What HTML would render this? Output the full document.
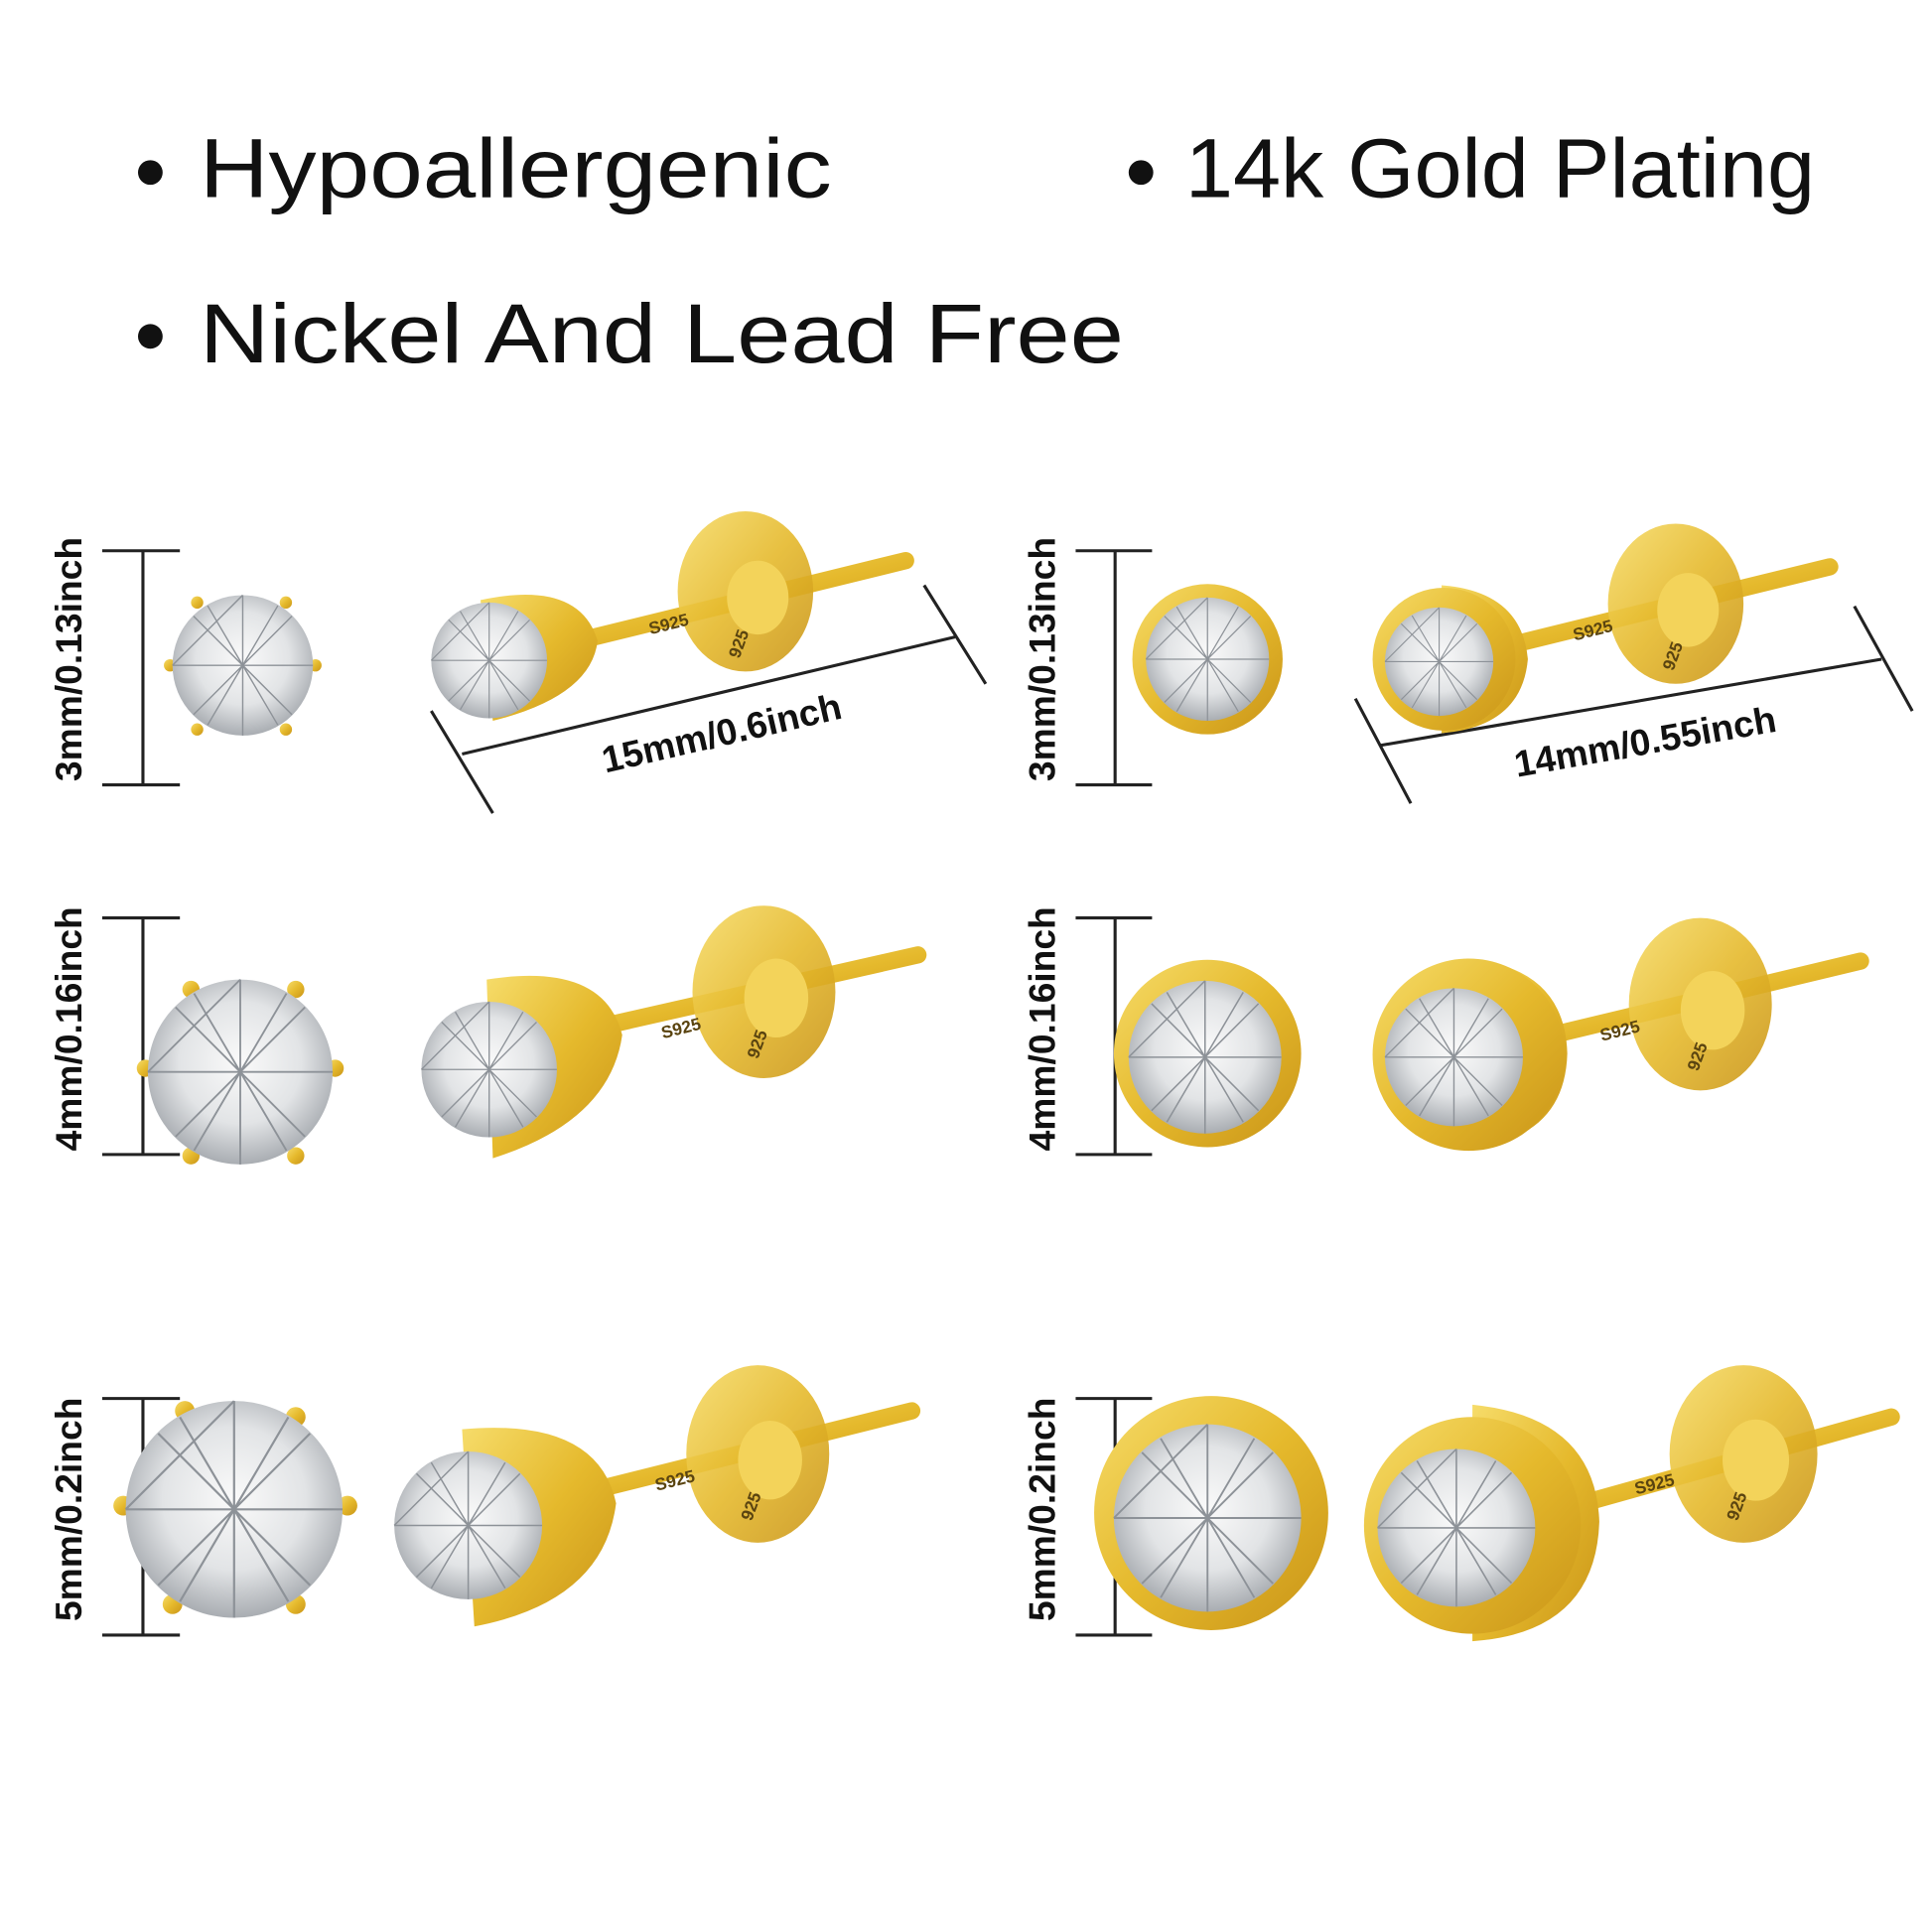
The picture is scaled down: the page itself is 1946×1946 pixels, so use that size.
<!DOCTYPE html>
<html><head><meta charset="utf-8"><style>
html,body{margin:0;padding:0;background:#fff}
svg{display:block}
text{font-family:"Liberation Sans","DejaVu Sans",sans-serif}
</style></head><body>
<svg width="1946" height="1946" viewBox="0 0 1568 1568" xmlns="http://www.w3.org/2000/svg">
<defs>
<radialGradient id="st" cx="50%" cy="45%" r="55%"><stop offset="0" stop-color="#fafafa"/><stop offset="0.6" stop-color="#e2e4e6"/><stop offset="1" stop-color="#a9adb2"/></radialGradient>
<linearGradient id="gd" x1="0" y1="0" x2="1" y2="1"><stop offset="0" stop-color="#f6dc6a"/><stop offset="0.5" stop-color="#e5b92c"/><stop offset="1" stop-color="#c99418"/></linearGradient>
<g id="facet"><path d="M-1,0 L0,-1 M-0.7,-0.7 L0.7,0.7 M-1,0 L1,0 M0,-1 L0,1 M0.7,-0.7 L-0.7,0.7 M-0.5,-0.85 L0.5,0.85 M0.5,-0.85 L-0.5,0.85" stroke="#8d9298" stroke-width="0.02" fill="none"/></g>
</defs>
<rect width="1568" height="1568" fill="#fff"/>
<g font-size="68" fill="#111">
<circle cx="122" cy="140" r="10"/><circle cx="926" cy="140" r="10"/><circle cx="122" cy="273" r="10"/>
<text x="162" y="160" textLength="513" lengthAdjust="spacingAndGlyphs">Hypoallergenic</text>
<text x="962" y="160" textLength="511" lengthAdjust="spacingAndGlyphs">14k Gold Plating</text>
<text x="162" y="294" textLength="750" lengthAdjust="spacingAndGlyphs">Nickel And Lead Free</text>
</g>
<g stroke="#222" stroke-width="2.5" fill="none">
<path d="M83,447H146M116,447V637M83,637H146"/>
<path d="M83,745H146M116,745V937M83,937H146"/>
<path d="M83,1135H146M116,1135V1327M83,1327H146"/>
<path d="M873,447H935M905,447V637M873,637H935"/>
<path d="M873,745H935M905,745V937M873,937H935"/>
<path d="M873,1135H935M905,1135V1327M873,1327H935"/>
<path d="M375,612L775,517M350,577L400,660M750,475L800,555"/>
<path d="M1120,605L1527,535M1100,567L1145,652M1505,492L1552,577"/>
</g>
<g font-size="30" fill="#111" text-anchor="middle" font-weight="600">
<text transform="translate(66,535) rotate(-90)">3mm/0.13inch</text>
<text transform="translate(66,835) rotate(-90)">4mm/0.16inch</text>
<text transform="translate(66,1225) rotate(-90)">5mm/0.2inch</text>
<text transform="translate(856,535) rotate(-90)">3mm/0.13inch</text>
<text transform="translate(856,835) rotate(-90)">4mm/0.16inch</text>
<text transform="translate(856,1225) rotate(-90)">5mm/0.2inch</text>
<text transform="translate(588,605) rotate(-13)">15mm/0.6inch</text>
<text transform="translate(1337,612) rotate(-10)">14mm/0.55inch</text>
</g>
<g>
<g>
<path d="M470,520L735,455" stroke="url(#gd)" stroke-width="14" stroke-linecap="round"/>
<ellipse cx="605" cy="480" rx="55" ry="65" fill="url(#gd)" opacity="0.9"/>
<ellipse cx="615" cy="485" rx="25" ry="30" fill="#f3d35a"/>
<path d="M390,487 Q470,470 485,520 Q480,565 400,585Z" fill="url(#gd)"/>
</g>
<g>
<path d="M480,835L745,775" stroke="url(#gd)" stroke-width="14" stroke-linecap="round"/>
<ellipse cx="620" cy="805" rx="58" ry="70" fill="url(#gd)" opacity="0.9"/>
<ellipse cx="630" cy="810" rx="26" ry="32" fill="#f3d35a"/>
<path d="M395,795 Q490,780 505,840 Q495,910 400,940Z" fill="url(#gd)"/>
</g>
<g>
<path d="M480,1210L740,1145" stroke="url(#gd)" stroke-width="14" stroke-linecap="round"/>
<ellipse cx="615" cy="1180" rx="58" ry="72" fill="url(#gd)" opacity="0.9"/>
<ellipse cx="625" cy="1185" rx="26" ry="32" fill="#f3d35a"/>
<path d="M375,1160 Q485,1150 500,1220 Q490,1300 385,1320Z" fill="url(#gd)"/>
</g>
<g>
<path d="M1220,525L1485,460" stroke="url(#gd)" stroke-width="14" stroke-linecap="round"/>
<ellipse cx="1360" cy="490" rx="55" ry="65" fill="url(#gd)" opacity="0.9"/>
<ellipse cx="1370" cy="495" rx="25" ry="30" fill="#f3d35a"/>
<path d="M1170,475 Q1235,480 1240,535 Q1235,590 1170,595Z" fill="url(#gd)"/>
</g>
<g>
<path d="M1260,840L1510,780" stroke="url(#gd)" stroke-width="14" stroke-linecap="round"/>
<ellipse cx="1380" cy="815" rx="58" ry="70" fill="url(#gd)" opacity="0.9"/>
<ellipse cx="1390" cy="820" rx="26" ry="32" fill="#f3d35a"/>
<path d="M1190,778 Q1270,785 1272,855 Q1270,925 1190,932Z" fill="url(#gd)"/>
</g>
<g>
<path d="M1285,1220L1535,1150" stroke="url(#gd)" stroke-width="14" stroke-linecap="round"/>
<ellipse cx="1415" cy="1180" rx="60" ry="72" fill="url(#gd)" opacity="0.9"/>
<ellipse cx="1425" cy="1185" rx="27" ry="33" fill="#f3d35a"/>
<path d="M1195,1140 Q1295,1150 1298,1235 Q1295,1325 1195,1332Z" fill="url(#gd)"/>
</g>
</g>
<g font-size="14" fill="#5a4410" font-weight="bold">
<text transform="translate(528,515) rotate(-14)">S925</text>
<text transform="translate(538,843) rotate(-14)">S925</text>
<text transform="translate(533,1210) rotate(-14)">S925</text>
<text transform="translate(1278,520) rotate(-14)">S925</text>
<text transform="translate(1300,845) rotate(-14)">S925</text>
<text transform="translate(1328,1213) rotate(-14)">S925</text>
<text transform="translate(600,535) rotate(-70)">925</text>
<text transform="translate(615,860) rotate(-70)">925</text>
<text transform="translate(610,1235) rotate(-70)">925</text>
<text transform="translate(1358,545) rotate(-70)">925</text>
<text transform="translate(1378,870) rotate(-70)">925</text>
<text transform="translate(1410,1235) rotate(-70)">925</text>
</g>
<g fill="url(#gd)">
<circle cx="160" cy="489" r="5"/><circle cx="232" cy="489" r="5"/><circle cx="256" cy="540" r="5"/><circle cx="232" cy="592" r="5"/><circle cx="160" cy="592" r="5"/><circle cx="138" cy="540" r="5"/>
<circle cx="155" cy="803" r="7"/><circle cx="240" cy="803" r="7"/><circle cx="272" cy="867" r="7"/><circle cx="240" cy="938" r="7"/><circle cx="155" cy="938" r="7"/><circle cx="118" cy="867" r="7"/>
<circle cx="150" cy="1145" r="8"/><circle cx="240" cy="1150" r="8"/><circle cx="282" cy="1222" r="8"/><circle cx="240" cy="1302" r="8"/><circle cx="140" cy="1302" r="8"/><circle cx="100" cy="1222" r="8"/>
</g>
<g>
<circle cx="197" cy="540" r="57" fill="url(#st)"/><use href="#facet" transform="translate(197,540) scale(57)"/>
<circle cx="195" cy="870" r="75" fill="url(#st)"/><use href="#facet" transform="translate(195,870) scale(75)"/>
<circle cx="190" cy="1225" r="88" fill="url(#st)"/><use href="#facet" transform="translate(190,1225) scale(88)"/>
<circle cx="397" cy="536" r="47" fill="url(#st)"/><use href="#facet" transform="translate(397,536) scale(47)"/>
<circle cx="397" cy="868" r="55" fill="url(#st)"/><use href="#facet" transform="translate(397,868) scale(55)"/>
<circle cx="380" cy="1238" r="60" fill="url(#st)"/><use href="#facet" transform="translate(380,1238) scale(60)"/>
</g>
<g>
<circle cx="980" cy="535" r="61" fill="url(#gd)"/><circle cx="980" cy="535" r="50" fill="url(#st)"/><use href="#facet" transform="translate(980,535) scale(50)"/>
<circle cx="980" cy="855" r="76" fill="url(#gd)"/><circle cx="978" cy="858" r="62" fill="url(#st)"/><use href="#facet" transform="translate(978,858) scale(62)"/>
<circle cx="983" cy="1228" r="95" fill="url(#gd)"/><circle cx="980" cy="1232" r="76" fill="url(#st)"/><use href="#facet" transform="translate(980,1232) scale(76)"/>
<circle cx="1172" cy="535" r="58" fill="url(#gd)"/><circle cx="1168" cy="537" r="44" fill="url(#st)"/><use href="#facet" transform="translate(1168,537) scale(44)"/>
<circle cx="1192" cy="856" r="78" fill="url(#gd)"/><circle cx="1180" cy="858" r="56" fill="url(#st)"/><use href="#facet" transform="translate(1180,858) scale(56)"/>
<circle cx="1195" cy="1238" r="88" fill="url(#gd)"/><circle cx="1182" cy="1240" r="64" fill="url(#st)"/><use href="#facet" transform="translate(1182,1240) scale(64)"/>
</g>
</svg>
</body></html>
